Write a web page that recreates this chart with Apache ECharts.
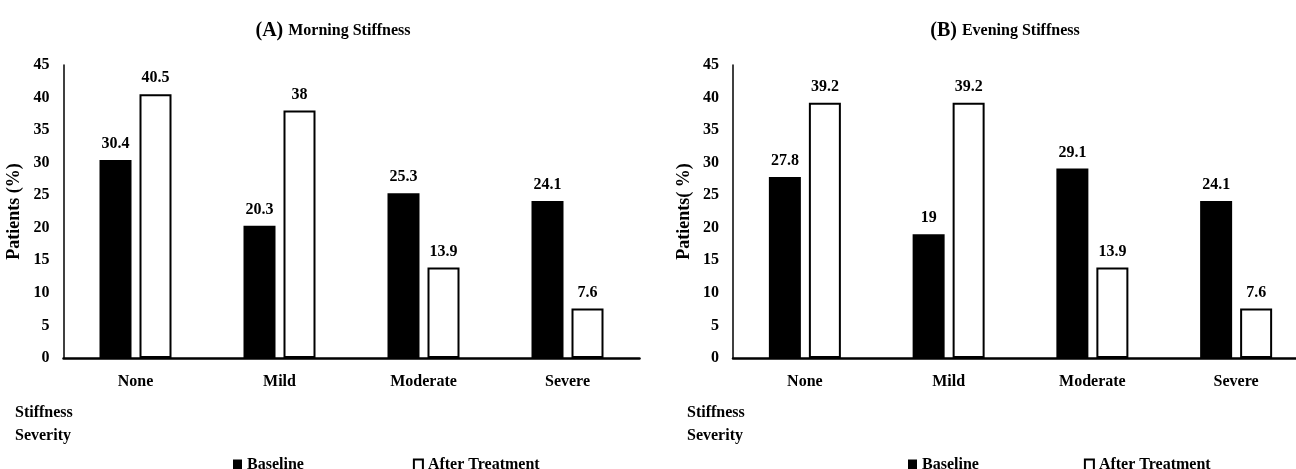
<!DOCTYPE html>
<html>
<head>
<meta charset="utf-8">
<script src="https://cdn.jsdelivr.net/npm/echarts@6/dist/echarts.min.js"></script>
<style>
html,body{margin:0;padding:0;background:#fff;}
#chart{width:1296px;height:469px;}
</style>
</head>
<body>
<div id="chart"></div>
<script>
const categories = ['None', 'Mild', 'Moderate', 'Severe'];
const morningBaseline = [30.4, 20.3, 25.3, 24.1];
const morningAfter = [40.5, 38, 13.9, 7.6];
const eveningBaseline = [27.8, 19, 29.1, 24.1];
const eveningAfter = [39.2, 39.2, 13.9, 7.6];
const yTicks = { min: 0, max: 45, interval: 5 };
const seriesNames = ['Baseline', 'After Treatment'];
const panelTitles = [['(A)', 'Morning Stiffness'], ['(B)', 'Evening Stiffness']];
const yNames = ['Patients (%)', 'Patients( %)'];
const xName = 'Stiffness\nSeverity';

const FONT = "'Liberation Serif', 'Times New Roman', serif";
const txt = { color: '#000', fontFamily: FONT, fontWeight: 'bold', fontSize: 16 };

function xAxis(gi) {
  return {
    type: 'category', gridIndex: gi, data: categories,
    axisLine: { lineStyle: { color: '#000', width: 2.5 } },
    axisTick: { show: false },
    axisLabel: Object.assign({ margin: 16 }, txt),
    splitLine: { show: false }
  };
}
function yAxis(gi) {
  return {
    type: 'value', gridIndex: gi, min: yTicks.min, max: yTicks.max, interval: yTicks.interval,
    name: yNames[gi], nameLocation: 'middle', nameGap: 40, nameRotate: 90,
    nameTextStyle: Object.assign({}, txt, { fontSize: 18 }),
    axisLine: { show: true, lineStyle: { color: '#000', width: 1.5 } },
    axisTick: { show: false },
    axisLabel: Object.assign({ margin: 14 }, txt),
    splitLine: { show: false }
  };
}
const label = Object.assign({ show: true, position: 'top', distance: 8 }, txt);
function bars(gi, base, after) {
  return [
    { name: seriesNames[0], type: 'bar', xAxisIndex: gi, yAxisIndex: gi, data: base,
      barWidth: 32, barGap: '25%', itemStyle: { color: '#000' }, label: label },
    { name: seriesNames[1], type: 'bar', xAxisIndex: gi, yAxisIndex: gi, data: after,
      barWidth: 32, barGap: '25%', itemStyle: { color: '#fff', borderColor: '#000', borderWidth: 2 }, label: label }
  ];
}
function titleOf(i, center) {
  return {
    text: '{a|' + panelTitles[i][0] + '} {b|' + panelTitles[i][1] + '}',
    left: center, top: 16, textAlign: 'center',
    textStyle: { rich: {
      a: { fontFamily: FONT, fontWeight: 'bold', fontSize: 20, color: '#000' },
      b: { fontFamily: FONT, fontWeight: 'bold', fontSize: 16, color: '#000' }
    } }
  };
}
function xNameTitle(left) {
  return { text: xName, left: left, top: 396,
    textStyle: Object.assign({}, txt, { lineHeight: 23 }) };
}
function legendOf(left, gap) {
  return { data: seriesNames, left: left, top: 452, itemWidth: 9, itemHeight: 11, itemGap: gap,
    icon: 'rect', textStyle: Object.assign({}, txt), selectedMode: false };
}

const chart = echarts.init(document.getElementById('chart'), null, { renderer: 'canvas' });
chart.setOption({
  animation: false,
  backgroundColor: '#fff',
  title: [titleOf(0, 328), titleOf(1, 1000), xNameTitle(10), xNameTitle(682)],
  legend: [legendOf(228, 109), legendOf(903, 105)],
  grid: [
    { left: 63.5, top: 65, width: 576, height: 293, outerBoundsMode: 'none' },
    { left: 733, top: 65, width: 575, height: 293, outerBoundsMode: 'none' }
  ],
  xAxis: [xAxis(0), xAxis(1)],
  yAxis: [yAxis(0), yAxis(1)],
  series: bars(0, morningBaseline, morningAfter).concat(bars(1, eveningBaseline, eveningAfter))
});
</script>
</body>
</html>
